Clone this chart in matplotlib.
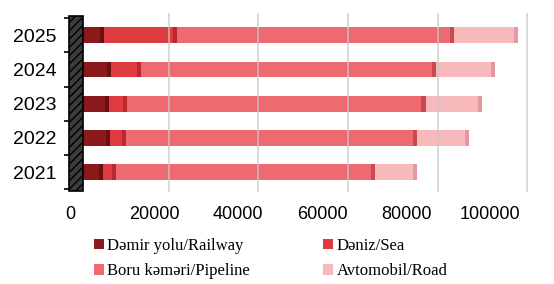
import matplotlib.pyplot as plt
import numpy as np
from matplotlib.patches import Rectangle

years = ["2021", "2022", "2023", "2024", "2025"]
railway = [5300, 6900, 6700, 7100, 5600]
sea = [2900, 3500, 4000, 6700, 16200]
pipeline = [57800, 64900, 66600, 65800, 61800]
road = [9300, 11600, 12500, 13300, 14400]

labels = ["Dəmir yolu/Railway", "Dəniz/Sea", "Boru kəməri/Pipeline", "Avtomobil/Road"]
colors = ["#8b1a1c", "#dd3b40", "#ef6a70", "#f7b9bc"]
caps = ["#6a1012", "#b8282d", "#c94a50", "#e39a9e"]
xticks = [0, 20000, 40000, 60000, 80000, 100000]

W, H = 554, 284
fig = plt.figure(figsize=(W / 100, H / 100), dpi=100)

# bars axes (back plane)
ax = fig.add_axes([79 / W, 1 - 192 / H, 455 / W, 179 / H])
y = np.arange(len(years))
left = np.zeros(len(years))
handles = []
for vals, col, cap, lab in zip([railway, sea, pipeline, road], colors, caps, labels):
    vals = np.array(vals, dtype=float)
    h = ax.barh(y, vals, left=left, height=0.46, color=col, label=lab, zorder=2)
    # darker end cap for the 3d look
    ax.barh(y, 900, left=left + vals - 900, height=0.46, color=cap, zorder=2)
    handles.append(h)
    left += vals

ax.set_xlim(0, 101500)
ax.set_ylim(-0.58, 4.65)
for gx in xticks[1:]:
    ax.axvline(gx, color="#c8c8c8", lw=1.2, zorder=3, alpha=0.8)

# side wall
ax.add_patch(Rectangle((-2200, -0.55), 3000, 5.1, facecolor="#3c3c3c", edgecolor="black",
                       hatch="////", lw=1.2, zorder=4, clip_on=False))

ax.set_yticks(y)
ax.set_yticklabels(years, fontsize=14, family="Liberation Sans")
ax.set_yticks(np.arange(-0.5, 5, 1), minor=True)
ax.tick_params(axis="y", which="major", length=0, pad=16)
ax.tick_params(axis="y", which="minor", length=11, width=1.2, color="black")
ax.set_xticks([])
for s in ax.spines.values():
    s.set_visible(False)

# tick labels (front plane)
ax2 = fig.add_axes([70 / W, 1 - 196 / H, 420 / W, 0.0001])
ax2.set_xlim(0, 100000)
ax2.set_xticks(xticks)
ax2.set_xticklabels([str(v) for v in xticks], fontsize=13, family="Liberation Sans")
ax2.tick_params(axis="x", length=0, pad=7)
ax2.set_yticks([])
for s in ax2.spines.values():
    s.set_visible(False)
ax2.patch.set_alpha(0)

order = [0, 2, 1, 3]
fig.legend([handles[i] for i in order], [labels[i] for i in order], ncol=2,
           loc="upper left", bbox_to_anchor=(94 / W, 1 - 238 / H), frameon=False,
           prop={"family": "Liberation Serif", "size": 12},
           handlelength=0.6, handleheight=0.6, handletextpad=0.2,
           columnspacing=4.4, labelspacing=0.55, borderpad=0, borderaxespad=0)

fig.savefig("out.png", dpi=100)
